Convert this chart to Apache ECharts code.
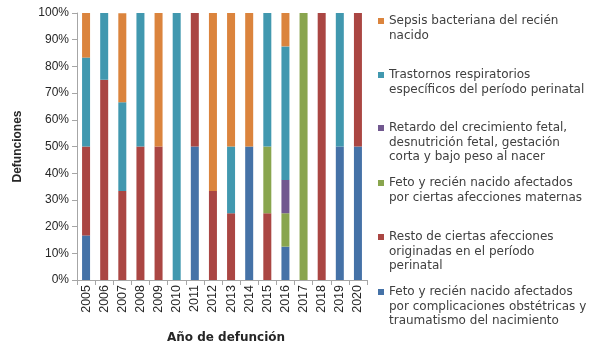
<!DOCTYPE html>
<html>
<head>
<meta charset="utf-8">
<script src="https://cdn.jsdelivr.net/npm/echarts@6/dist/echarts.min.js"></script>
<style>
  html, body { margin: 0; padding: 0; background: #fff; }
  #main { width: 590px; height: 349px; }
</style>
</head>
<body>
<div id="main"></div>
<script>
// categorias (años)
var years = ['2005', '2006', '2007', '2008', '2009', '2010', '2011', '2012',
             '2013', '2014', '2015', '2016', '2017', '2018', '2019', '2020'];

// porcentaje de defunciones por causa
var complicaciones = [16.7, 0, 0, 0, 0, 0, 50, 0, 0, 50, 0, 12.5, 0, 0, 50, 50];
var restoPerinatal = [33.3, 75, 33.3, 50, 50, 0, 50, 33.3, 25, 0, 25, 0, 0, 100, 0, 50];
var afeccionesMaternas = [0, 0, 0, 0, 0, 0, 0, 0, 0, 0, 25, 12.5, 100, 0, 0, 0];
var retardoCrecimiento = [0, 0, 0, 0, 0, 0, 0, 0, 0, 0, 0, 12.5, 0, 0, 0, 0];
var trastornosRespiratorios = [33.3, 25, 33.3, 50, 0, 100, 0, 0, 25, 0, 50, 50, 0, 0, 50, 0];
var sepsis = [16.7, 0, 33.3, 0, 50, 0, 0, 66.7, 50, 50, 0, 12.5, 0, 0, 0, 0];

var yTicks = ['0%', '10%', '20%', '30%', '40%', '50%', '60%', '70%', '80%', '90%', '100%'];

var names = [
    'Feto y recién nacido afectados\npor complicaciones obstétricas y\ntraumatismo del nacimiento',
    'Resto de ciertas afecciones\noriginadas en el período\nperinatal',
    'Feto y recién nacido afectados\npor ciertas afecciones maternas',
    'Retardo del crecimiento fetal,\ndesnutrición fetal, gestación\ncorta y bajo peso al nacer',
    'Trastornos respiratorios\nespecíficos del período perinatal',
    'Sepsis bacteriana del recién\nnacido'
];
var values = [complicaciones, restoPerinatal, afeccionesMaternas, retardoCrecimiento, trastornosRespiratorios, sepsis];
var colors = ['#4572A7', '#AA4643', '#89A54E', '#71588F', '#4198AF', '#DB843D'];

// y de la primera línea de cada leyenda (orden de arriba a abajo = inverso de la pila)
var legendLineY = [292, 237, 183, 128, 75, 21];
var lh = 14.5;

var myChart = echarts.init(document.getElementById('main'));

var series = names.map(function (n, i) {
    return {
        name: n,
        type: 'bar',
        stack: 'total',
        barWidth: 8,
        itemStyle: { color: colors[i] },
        data: values[i]
    };
});

// una leyenda por serie para que el marcador quede en la primera línea
var legends = names.map(function (n, i) {
    var lines = n.split('\n').length;
    var pad = new Array(lines).join('\n');
    return {
        data: [n],
        left: 378,
        top: legendLineY[i] - lh / 2 - (lines - 1) * lh,
        padding: 0,
        itemWidth: 6,
        itemHeight: 6,
        icon: 'rect',
        selectedMode: false,
        formatter: function (name) { return pad + name; },
        textStyle: {
            fontFamily: 'DejaVu Sans',
            fontSize: 12,
            color: '#404040',
            lineHeight: lh
        }
    };
});

var option = {
    animation: false,
    backgroundColor: '#fff',
    color: colors,
    grid: {
        left: 77,
        right: 223,
        top: 13,
        bottom: 61,
        containLabel: false
    },
    legend: legends,
    xAxis: {
        type: 'category',
        data: years,
        name: 'Año de defunción',
        nameLocation: 'middle',
        nameGap: 52,
        nameTextStyle: {
            fontFamily: 'DejaVu Sans',
            fontSize: 12,
            fontWeight: 'bold',
            color: '#262626',
            padding: [0, 0, 0, 8]
        },
        axisLine: { lineStyle: { color: '#a6a6a6' } },
        axisTick: { show: true, length: 5, lineStyle: { color: '#a6a6a6' } },
        axisLabel: {
            rotate: 90,
            margin: 5,
            fontFamily: 'Liberation Sans',
            fontSize: 12.5,
            color: '#262626'
        }
    },
    yAxis: {
        type: 'value',
        min: 0,
        max: 100,
        interval: 10,
        name: 'Defunciones',
        nameLocation: 'middle',
        nameRotate: 90,
        nameGap: 53,
        nameTextStyle: {
            fontFamily: 'Liberation Sans',
            fontSize: 12,
            fontWeight: 'bold',
            color: '#262626'
        },
        axisLine: { show: true, lineStyle: { color: '#a6a6a6' } },
        axisTick: { show: true, length: 5, lineStyle: { color: '#a6a6a6' } },
        splitLine: { show: false },
        axisLabel: {
            margin: 8,
            fontFamily: 'Liberation Sans',
            fontSize: 12,
            color: '#262626',
            formatter: function (v) { return yTicks[Math.round(v / 10)]; }
        }
    },
    series: series
};

myChart.setOption(option);
</script>
</body>
</html>
